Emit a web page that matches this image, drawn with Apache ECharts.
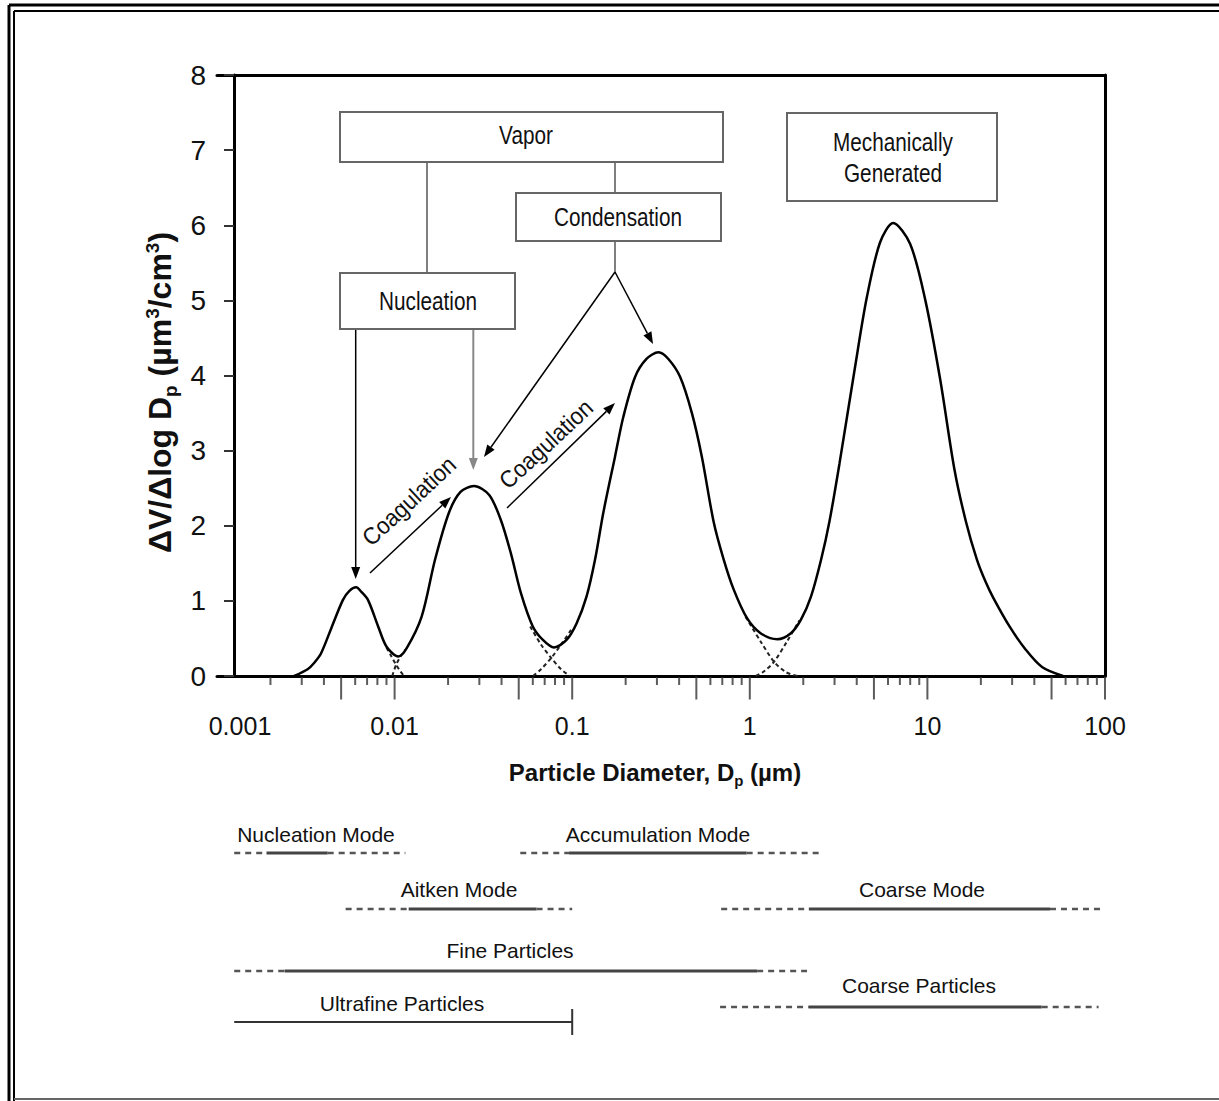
<!DOCTYPE html>
<html>
<head>
<meta charset="utf-8">
<title>Aerosol volume distribution</title>
<script src="https://cdn.jsdelivr.net/npm/echarts@6/dist/echarts.min.js"></script>
<style>
  html, body { margin: 0; padding: 0; background: #fff; }
  #main { width: 1219px; height: 1101px; }
</style>
</head>
<body>
<div id="main"></div>
<script>
// volume distribution: particle diameter (µm) -> dV/dlogDp (µm3/cm3)
const diameter = [0.00272, 0.00324, 0.00351, 0.00385, 0.00439, 0.00511, 0.00555, 0.00608, 0.0065, 0.00709,
  0.00808, 0.00901, 0.0105, 0.0117, 0.0142, 0.0169, 0.0202, 0.0235, 0.0280, 0.0341,
  0.0396, 0.0452, 0.0515, 0.0600, 0.0684, 0.0790, 0.0929, 0.1058, 0.1205, 0.1345,
  0.1496, 0.1742, 0.1941, 0.2259, 0.262, 0.3062, 0.348, 0.4055, 0.472, 0.537,
  0.626, 0.713, 0.812, 0.965, 1.150, 1.429, 1.703, 1.941, 2.213, 2.521,
  2.81, 3.20, 3.90, 4.56, 5.41, 6.41, 8.00, 9.74, 11.8, 14.2,
  16.5, 19.0, 21.3, 23.5, 29.0, 35.8, 44.2, 58.0];
const dVdlogDp = [0, 0.09, 0.17, 0.30, 0.63, 1.01, 1.13, 1.18, 1.12, 1.01,
  0.66, 0.39, 0.26, 0.37, 0.79, 1.55, 2.17, 2.45, 2.53, 2.41,
  2.08, 1.63, 1.10, 0.66, 0.48, 0.38, 0.48, 0.70, 1.06, 1.55,
  2.17, 2.92, 3.45, 3.98, 4.22, 4.31, 4.22, 3.98, 3.50, 2.92,
  2.05, 1.55, 1.15, 0.77, 0.57, 0.49, 0.57, 0.75, 1.06, 1.55,
  2.06, 2.83, 4.09, 5.04, 5.77, 6.03, 5.75, 5.00, 3.95, 2.75,
  2.05, 1.55, 1.25, 1.04, 0.66, 0.35, 0.12, 0];

// dashed tails of the single modes where they overlap
const tailNucleation = [[0.0090, 0.38], [0.0096, 0.26], [0.0102, 0.15], [0.0108, 0.06], [0.0113, 0]];
const tailAitkenLow = [[0.0097, 0], [0.0102, 0.15], [0.0108, 0.26], [0.0115, 0.35]];
const tailAitkenHigh = [[0.058, 0.66], [0.0667, 0.42], [0.0762, 0.24], [0.0866, 0.09], [0.097, 0]];
const tailAccumLow = [[0.0602, 0], [0.0667, 0.09], [0.0762, 0.24], [0.0866, 0.42], [0.099, 0.62]];
const tailAccumHigh = [[0.946, 0.79], [1.15, 0.46], [1.37, 0.19], [1.6, 0.05], [1.86, 0]];
const tailCoarseLow = [[1.08, 0], [1.2, 0.06], [1.37, 0.19], [1.62, 0.46], [1.9, 0.74]];

// size ranges below the plot: [dashed from, solid from, solid to, dashed to] (µm)
const nucleationMode = [0.00125, 0.0019, 0.0042, 0.0115];
const accumulationMode = [0.051, 0.096, 0.96, 2.5];
const aitkenMode = [0.0053, 0.012, 0.063, 0.1];
const coarseMode = [0.69, 2.15, 49, 100];
const fineParticles = [0.00125, 0.0024, 1.1, 2.1];
const coarseParticles = [0.68, 2.15, 44, 92];
const ultrafineParticles = [0.00125, 0.1];

const xTickLabels = ['0.001', '0.01', '0.1', '1', '10', '100'];
const minorTicks = [0.002, 0.003, 0.004, 0.006, 0.007, 0.008, 0.009,
  0.02, 0.03, 0.04, 0.06, 0.07, 0.08, 0.09,
  0.2, 0.3, 0.4, 0.6, 0.7, 0.8, 0.9,
  2, 3, 4, 6, 7, 8, 9,
  20, 30, 40, 60, 70, 80, 90];
const majorTicks = [0.005, 0.01, 0.05, 0.1, 0.5, 1, 5, 10, 50, 100];

const SANS = '"Liberation Sans", Arial, sans-serif';
const INK = '#111';
const NARROW_SCALE = 0.83; // the figure's lettering is condensed

const myChart = echarts.init(document.getElementById('main'), null, { renderer: 'svg' });

function seg(x1, y1, x2, y2, color, width) {
  return { type: 'line', silent: true, shape: { x1, y1, x2, y2 }, style: { stroke: color, lineWidth: width } };
}

function arrow(x1, y1, x2, y2, color, width) {
  const a = Math.atan2(y2 - y1, x2 - x1);
  const bx = x2 - 12 * Math.cos(a);
  const by = y2 - 12 * Math.sin(a);
  const px = -Math.sin(a) * 4.5;
  const py = Math.cos(a) * 4.5;
  return [
    seg(x1, y1, bx, by, color, width),
    { type: 'polygon', silent: true, shape: { points: [[x2, y2], [bx + px, by + py], [bx - px, by - py]] }, style: { fill: color } },
  ];
}

function box(x, y, w, h) {
  return { type: 'rect', silent: true, shape: { x, y, width: w, height: h }, style: { fill: '#fff', stroke: '#666', lineWidth: 2 } };
}

function text(str, x, y, size, opts) {
  const o = opts || {};
  return {
    type: 'text', silent: true, x, y, rotation: o.rotation || 0, scaleX: o.scaleX || 1,
    style: {
      text: str, fill: INK, fontSize: size, fontFamily: SANS, lineHeight: o.lineHeight || size,
      align: 'center', verticalAlign: 'middle', textAlign: 'center', textVerticalAlign: 'middle',
    },
  };
}

// rows of the size-range diagram (grid 2 runs 0..220 px downwards)
const rowY = { top: 33, mid: 89, fine: 151, coarseP: 187, ultra: 202 };

function rangeSeries(r, y) {
  const base = { type: 'line', xAxisIndex: 2, yAxisIndex: 2, showSymbol: false, silent: true, clip: false };
  return [
    { ...base, data: [[r[0], y], [r[1], y]], lineStyle: { color: '#555', width: 2.5, type: [6, 5] } },
    { ...base, data: [[r[1], y], [r[2], y]], lineStyle: { color: '#444', width: 3 } },
    { ...base, data: [[r[2], y], [r[3], y]], lineStyle: { color: '#555', width: 2.5, type: [6, 5] } },
  ];
}

function tailSeries(pts) {
  return {
    type: 'line', data: pts, showSymbol: false, smooth: 0.3, silent: true, clip: false,
    lineStyle: { color: '#222', width: 2, type: [4, 3] },
  };
}

const tickBase = { type: 'scatter', silent: true, clip: false, symbol: 'rect', itemStyle: { color: '#333' } };
const narrow = { scaleX: NARROW_SCALE };
const coag = { rotation: 43 * Math.PI / 180, scaleX: 0.92 };

const graphic = [
  // double frame of the figure
  seg(9, 5, 9, 1101, '#000', 3), seg(9, 5, 1219, 5, '#000', 3),
  seg(14, 11, 14, 1101, '#000', 2), seg(14, 11, 1219, 11, '#000', 2),
  seg(14, 1099, 1219, 1099, '#666', 2),
  // process boxes
  seg(427, 162, 427, 273, '#555', 1.5), seg(615, 162, 615, 193, '#555', 1.5), seg(615, 241, 615, 272, '#555', 1.5),
  box(340, 112, 383, 50), box(516, 193, 205, 48), box(340, 273, 175, 56), box(787, 113, 210, 88),
  text('Vapor', 526, 135, 25, narrow),
  text('Condensation', 618, 217, 25, narrow),
  text('Nucleation', 428, 301, 25, narrow),
  text('Mechanically\nGenerated', 893, 158, 25, { scaleX: NARROW_SCALE, lineHeight: 31 }),
  ...arrow(355.7, 330, 355.7, 579, '#000', 1.5),
  ...arrow(473.3, 330, 473.3, 470, '#888', 2),
  ...arrow(615, 272, 484, 457, '#000', 1.5),
  ...arrow(615, 272, 653, 344, '#000', 1.5),
  ...arrow(370, 573, 451, 497, '#000', 1.5),
  ...arrow(507, 508, 615, 403, '#000', 1.5),
  text('Coagulation', 409, 501, 24, coag),
  text('Coagulation', 546, 444, 24, coag),
  // size-range labels
  text('Nucleation Mode', 316, 834, 21),
  text('Accumulation Mode', 658, 834, 21),
  text('Aitken Mode', 459, 889, 21),
  text('Coarse Mode', 922, 889, 21),
  text('Fine Particles', 510, 950, 21),
  text('Ultrafine Particles', 402, 1003, 21),
  text('Coarse Particles', 919, 985, 21),
];

function titleRich(size, subSize) {
  const common = { fontFamily: SANS, fontWeight: 'bold', color: INK, lineHeight: size + 8 };
  return {
    b: { ...common, fontSize: size, verticalAlign: 'middle' },
    sub: { ...common, fontSize: subSize, verticalAlign: 'bottom' },
    sup: { ...common, fontSize: subSize, verticalAlign: 'top', padding: [3, 0, 0, 0] },
  };
}

const option = {
  backgroundColor: '#fff',
  animation: false,
  graphic,
  grid: [
    { left: 217, right: 114, top: 75, height: 601 },
    { left: 217, right: 114, top: 820, height: 220 },
  ],
  xAxis: [
    {
      type: 'log', logBase: 10, min: 0.001, max: 100, gridIndex: 0, position: 'bottom',
      axisLine: { onZero: false, lineStyle: { color: '#000', width: 3 } },
      axisTick: { show: false },
      splitLine: { show: false },
      axisLabel: {
        margin: 37, fontFamily: SANS, fontSize: 25, color: INK,
        formatter: v => {
          const k = Math.round(Math.log10(v));
          const s = xTickLabels[k + 3];
          return k === -3 ? '{first|' + s + '}' : s;
        },
        rich: { first: { fontFamily: SANS, fontSize: 25, color: INK, padding: [0, 0, 0, 46] } },
      },
      name: '{b|Particle Diameter, D}{sub|p}{b| (µm)}',
      nameLocation: 'middle', nameGap: 80,
      nameTextStyle: { padding: [0, 12, 0, 0], rich: titleRich(24, 15) },
    },
    {
      type: 'log', logBase: 10, min: 0.001, max: 100, gridIndex: 0, position: 'top',
      axisLine: { onZero: false, lineStyle: { color: '#000', width: 3 } },
      axisTick: { show: false }, axisLabel: { show: false }, splitLine: { show: false },
    },
    { type: 'log', logBase: 10, min: 0.001, max: 100, gridIndex: 1, show: false },
  ],
  yAxis: [
    {
      type: 'value', min: 0, max: 8, interval: 1, gridIndex: 0, offset: -17,
      axisLine: { show: true, onZero: false, lineStyle: { color: '#000', width: 3 } },
      axisTick: { show: true, length: 10, lineStyle: { color: '#333', width: 2 } },
      axisLabel: { margin: 28, fontFamily: SANS, fontSize: 28, color: INK },
      splitLine: { show: false },
      name: '{b|ΔV/Δlog D}{sub|p}{b| (µm}{sup|3}{b|/cm}{sup|3}{b|)}',
      nameLocation: 'middle', nameGap: 50, nameRotate: 90,
      nameTextStyle: { padding: [0, 34, 0, 0], rich: titleRich(32, 19) },
    },
    {
      type: 'value', min: 0, max: 8, gridIndex: 0, position: 'right',
      axisLine: { show: true, onZero: false, lineStyle: { color: '#000', width: 3 } },
      axisTick: { show: false }, axisLabel: { show: false }, splitLine: { show: false },
    },
    { type: 'value', min: 0, max: 220, inverse: true, gridIndex: 1, show: false },
  ],
  series: [
    { ...tickBase, data: minorTicks.map(d => [d, 0]), symbolSize: [2, 8], symbolOffset: [0, 5] },
    { ...tickBase, data: majorTicks.map(d => [d, 0]), symbolSize: [2, 23], symbolOffset: [0, 12] },
    tailSeries(tailNucleation),
    tailSeries(tailAitkenLow),
    tailSeries(tailAitkenHigh),
    tailSeries(tailAccumLow),
    tailSeries(tailAccumHigh),
    tailSeries(tailCoarseLow),
    {
      type: 'line', name: 'dV/dlogDp', data: diameter.map((d, i) => [d, dVdlogDp[i]]),
      showSymbol: false, smooth: 0.3, clip: false, silent: true,
      lineStyle: { color: '#000', width: 2.5 },
    },
    ...rangeSeries(nucleationMode, rowY.top),
    ...rangeSeries(accumulationMode, rowY.top),
    ...rangeSeries(aitkenMode, rowY.mid),
    ...rangeSeries(coarseMode, rowY.mid),
    ...rangeSeries(fineParticles, rowY.fine),
    ...rangeSeries(coarseParticles, rowY.coarseP),
    {
      type: 'line', xAxisIndex: 2, yAxisIndex: 2, silent: true, clip: false, symbol: 'none',
      data: [[ultrafineParticles[0], rowY.ultra],
        { value: [ultrafineParticles[1], rowY.ultra], symbol: 'rect', symbolSize: [2, 26] }],
      itemStyle: { color: '#333' },
      lineStyle: { color: '#333', width: 2 },
    },
  ],
};

myChart.setOption(option);
window.addEventListener('resize', () => myChart.resize());
</script>
</body>
</html>
